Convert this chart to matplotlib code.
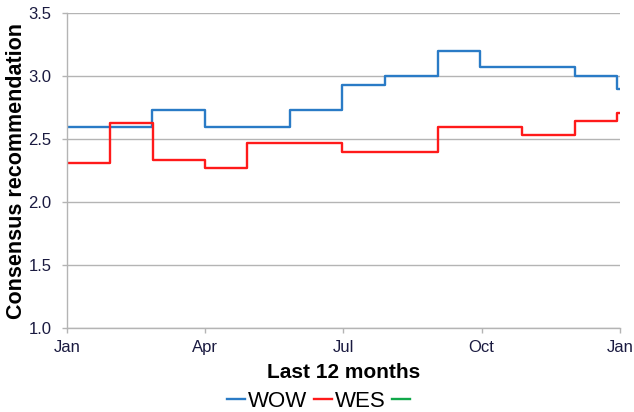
import matplotlib
matplotlib.use("Agg")
import matplotlib.pyplot as plt
from matplotlib.lines import Line2D

plt.rcParams['font.family'] = ['Liberation Sans', 'DejaVu Sans']

# Months elapsed (0 = Jan) at which each consensus level begins
wow_t = [0.0, 1.84, 3.0, 4.84, 5.97, 6.9, 8.05, 8.96, 11.02, 11.94, 12.0]
wow_v = [2.60, 2.73, 2.60, 2.73, 2.93, 3.00, 3.20, 3.07, 3.00, 2.90, 2.90]

wes_t = [0.0, 0.93, 1.87, 3.0, 3.9, 5.97, 8.05, 9.87, 11.02, 11.94, 12.0]
wes_v = [2.31, 2.63, 2.33, 2.27, 2.47, 2.40, 2.60, 2.53, 2.64, 2.71, 2.71]

tick_pos = [0, 3, 6, 9, 12]
tick_labels = ["Jan", "Apr", "Jul", "Oct", "Jan"]
y_ticks = [1.0, 1.5, 2.0, 2.5, 3.0, 3.5]

blue = "#2a7bc6"
red = "#ff1a1a"
green = "#10a84a"
grid = "#b4b4b4"
tick_color = "#1a1a40"

fig = plt.figure(figsize=(6.34, 4.12), dpi=100)
ax = fig.add_axes([0.1057, 0.204, 0.872, 0.764])

ax.plot(wow_t, wow_v, drawstyle="steps-post", color=blue, lw=1.7)
ax.plot(wes_t, wes_v, drawstyle="steps-post", color=red, lw=1.7)

ax.set_xlim(0, 12)
ax.set_ylim(1.0, 3.5)
ax.set_yticks(y_ticks)
ax.set_yticklabels([f"{v:.1f}" for v in y_ticks])
ax.set_xticks(tick_pos)
ax.set_xticklabels(tick_labels)

ax.yaxis.grid(True, color=grid, lw=1.0)
ax.set_axisbelow(True)
for s in ["top", "right"]:
    ax.spines[s].set_visible(False)
for s in ["left", "bottom"]:
    ax.spines[s].set_color(grid)
    ax.spines[s].set_linewidth(1.0)
ax.tick_params(axis="both", colors=grid, length=3.6, width=1.0, labelsize=12,
               labelcolor=tick_color)
ax.tick_params(axis="x", pad=5)
ax.tick_params(axis="y", pad=7.5)

ax.set_ylabel("Consensus recommendation", fontsize=15.5, fontweight="bold", labelpad=1)
ax.set_xlabel("Last 12 months", fontsize=15, fontweight="bold", labelpad=6)

handles = [Line2D([], [], color=blue, lw=1.7),
           Line2D([], [], color=red, lw=1.7),
           Line2D([], [], color=green, lw=1.7)]
fig.legend(handles, ["WOW", "WES", ""], loc="center", bbox_to_anchor=(0.505, 0.026),
           ncol=3, frameon=False, fontsize=16, handlelength=0.8, handletextpad=0.15,
           columnspacing=0.3, borderpad=0.2)

fig.savefig("out.png", dpi=100)
